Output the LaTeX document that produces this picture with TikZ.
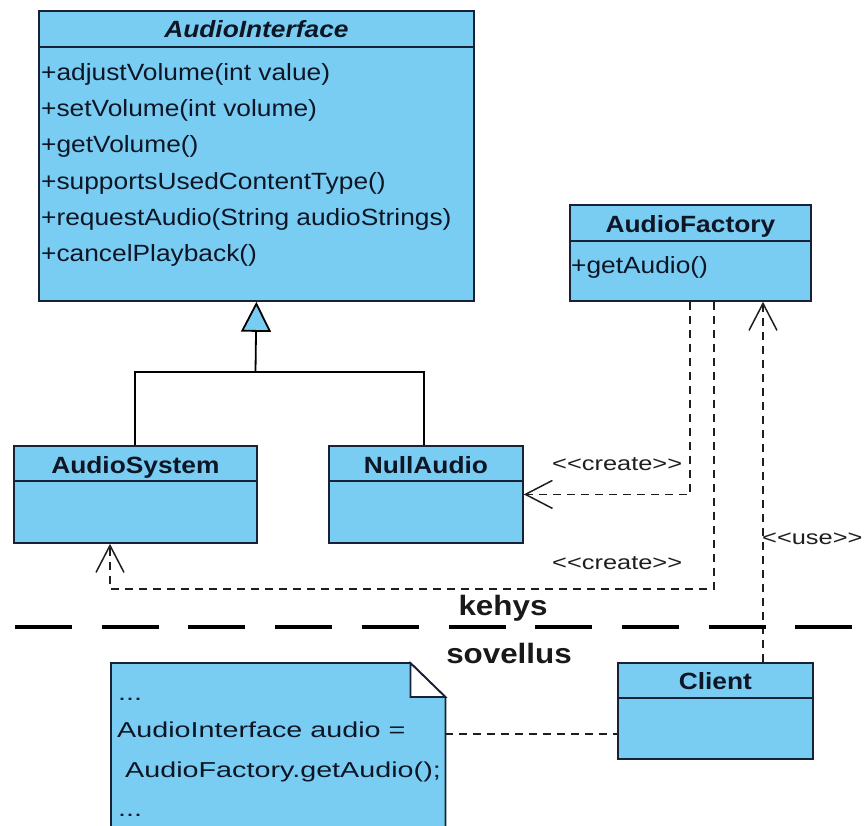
\documentclass[tikz,border=0pt]{standalone}
\usepackage{fontspec}
\setmainfont{Liberation Sans}
\newfontfamily\clsfont[FakeStretch=1.12]{Liberation Sans}
\newfontfamily\lblfont[FakeStretch=1.27]{Liberation Sans}
\newfontfamily\notefont[FakeStretch=1.33]{Liberation Sans}
\usetikzlibrary{arrows.meta,calc}

\definecolor{umlblue}{RGB}{122,205,242}
\definecolor{umlline}{RGB}{24,34,54}
\definecolor{umltext}{RGB}{14,22,38}
\definecolor{depline}{RGB}{30,30,30}

\tikzset{
  classbox/.style={draw=umlline, fill=umlblue, line width=1.8pt, inner sep=0pt,
                   anchor=north west},
  classrule/.style={draw=umlline, line width=1.8pt},
  classtitle/.style={font=\clsfont\bfseries\fontsize{23.5}{28}\selectfont,
                     text=umltext, inner sep=0pt, anchor=base},
  member/.style={font=\clsfont\fontsize{23.5}{28}\selectfont, text=umltext,
                 inner sep=0pt, anchor=base west},
  deplabel/.style={font=\lblfont\fontsize{20}{24}\selectfont, text=depline,
                   inner sep=0pt, anchor=base west},
  notetext/.style={font=\notefont\fontsize{21.6}{26}\selectfont, text=umltext,
                   inner sep=0pt, anchor=base west},
  layertext/.style={font=\clsfont\bfseries\fontsize{28}{32}\selectfont,
                    text=black!90, inner sep=0pt, anchor=base},
  dep/.style={draw=depline, line width=1.5pt, dash pattern=on 8pt off 6pt},
  openarrow/.style={-{Straight Barb[length=27pt,width=28pt,line width=1.5pt]}},
  inherit/.style={draw=black, line width=1.8pt,
                  -{Triangle[length=30pt,width=30pt,line width=1.8pt,fill=umlblue]}},
}

\begin{document}
\begin{tikzpicture}[x=1pt, y=-1pt]
  \useasboundingbox (0,0) rectangle (865,825);
  \clip (0,0) rectangle (865,825);
  \fill[white] (0,0) rectangle (865,825);

  % ---- AudioInterface ----
  \node[classbox, minimum width=435pt, minimum height=290pt] (iface) at (38,10) {};
  \draw[classrule] ($(iface.north west)+(0,37)$) -- ($(iface.north east)+(0,37)$);
  \node[classtitle, font=\clsfont\bfseries\itshape\fontsize{23.5}{28}\selectfont]
       (ifaceT) at ($(iface.north)+(0,27.5)$) {AudioInterface};
  \node[member] (m1) at (41,80.5)  {+adjustVolume(int value)};
  \node[member] (m2) at (41,116.7) {+setVolume(int volume)};
  \node[member] (m3) at (41,152.9) {+getVolume()};
  \node[member] (m4) at (41,189)   {+supportsUsedContentType()};
  \node[member] (m5) at (41,225)   {+requestAudio(String audioStrings)};
  \node[member] (m6) at (41,261)   {+cancelPlayback()};

  % ---- AudioFactory ----
  \node[classbox, minimum width=241pt, minimum height=96pt] (factory) at (569,204) {};
  \draw[classrule] ($(factory.north west)+(0,37)$) -- ($(factory.north east)+(0,37)$);
  \node[classtitle] (factoryT) at ($(factory.north)+(0,28)$) {AudioFactory};
  \node[member] (f1) at (571,273) {+getAudio()};

  % ---- AudioSystem ----
  \node[classbox, minimum width=243pt, minimum height=97pt] (asys) at (13,445) {};
  \draw[classrule] ($(asys.north west)+(0,36)$) -- ($(asys.north east)+(0,36)$);
  \node[classtitle] (asysT) at ($(asys.north)+(0,28)$) {AudioSystem};

  % ---- NullAudio ----
  \node[classbox, minimum width=194pt, minimum height=97pt] (nulla) at (328,445) {};
  \draw[classrule] ($(nulla.north west)+(0,36)$) -- ($(nulla.north east)+(0,36)$);
  \node[classtitle] (nullaT) at ($(nulla.north)+(0,28)$) {NullAudio};

  % ---- Client ----
  \node[classbox, minimum width=195pt, minimum height=96pt] (client) at (617,662) {};
  \draw[classrule] ($(client.north west)+(0,36)$) -- ($(client.north east)+(0,36)$);
  \node[classtitle] (clientT) at ($(client.north)+(0,27)$) {Client};

  % ---- note with folded corner ----
  \node[inner sep=0pt, minimum width=334pt, minimum height=175pt, anchor=north west]
       (note) at (111,663) {};
  \draw[classrule, fill=umlblue]
       (note.north west) -- ($(note.north east)+(-35,0)$)
       -- ($(note.north east)+(0,34)$) -- (note.south east)
       -- (note.south west) -- cycle;
  \draw[classrule, fill=white, line join=miter]
       ($(note.north east)+(-35,0)$) -- ($(note.north east)+(-35,34)$)
       -- ($(note.north east)+(0,34)$) -- cycle;
  \node[notetext] (n1) at (118,700) {...};
  \node[notetext] (n2) at (117,737) {AudioInterface audio =};
  \node[notetext] (n3) at (125,777) {AudioFactory.getAudio();};
  \node[notetext] (n4) at (118,816) {...};

  % ---- generalisation ----
  \coordinate (junction) at (255.5,372);
  \draw[draw=black, line width=1.8pt] (asys.north -| 135,0) |- (junction) -| (nulla.north -| 424,0);
  \draw[inherit] (junction) -- (iface.south);

  % ---- dependencies ----
  \coordinate (cA) at (690,0);
  \draw[dep, openarrow] (factory.south -| cA) |- (nulla.east);
  \coordinate (bendA) at (714,589);
  \coordinate (bendB) at (110,589);
  \draw[dep, openarrow] (factory.south -| bendA) -- (bendA) -- (bendB) -- (asys.south -| bendB);
  \coordinate (useX) at (763,0);
  \draw[dep, openarrow] (client.north -| useX) -- (factory.south -| useX);
  \coordinate (noteY) at (0,734);
  \draw[dep] (note.east |- noteY) -- (client.west |- noteY);

  \node[deplabel] (lc1) at (552,470) {<\kern0pt<create>\kern0pt>};
  \node[deplabel] (lc2) at (552,569) {<\kern0pt<create>\kern0pt>};
  \node[deplabel] (lu)  at (762,544) {<\kern0pt<use>\kern0pt>};

  % ---- layer boundary ----
  \coordinate (sepL) at (15,627);
  \coordinate (sepR) at (856,627);
  \draw[black, line width=4pt, dash pattern=on 57pt off 29.7pt] (sepL) -- (sepR);
  \node[layertext] (kehys) at (503,615) {kehys};
  \node[layertext] (sovellus) at (509,663) {sovellus};
\end{tikzpicture}
\end{document}
